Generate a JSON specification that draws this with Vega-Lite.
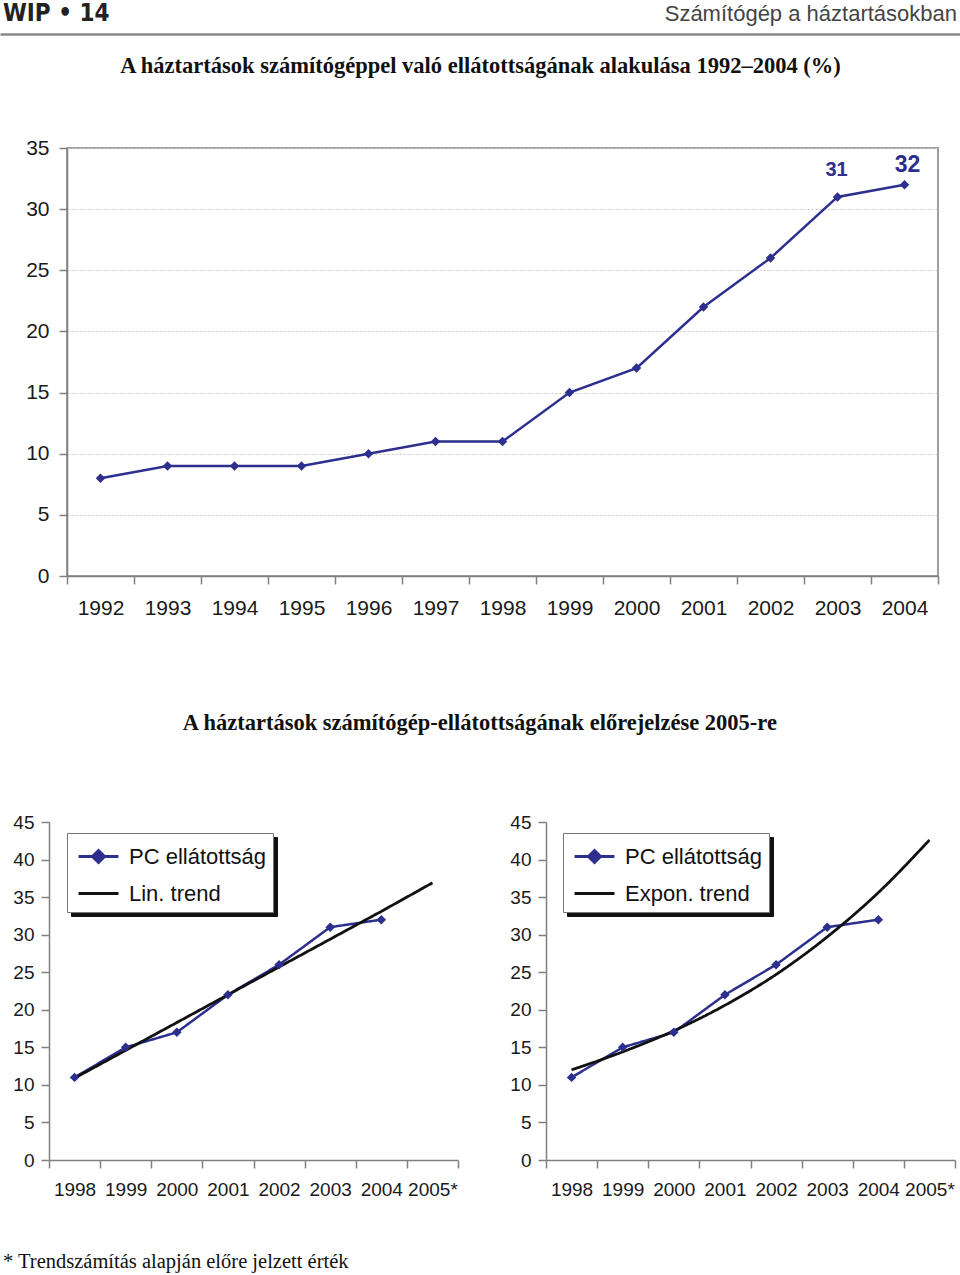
{
  "$schema": "https://vega.github.io/schema/vega-lite/v6.json",
  "padding": 0,
  "background": "white",
  "config": {
    "view": {"stroke": null},
    "font": "Liberation Sans",
    "axis": {"labelFont": "Liberation Sans", "labelColor": "#1a1a1a", "domainColor": "#808080", "tickColor": "#808080", "domainWidth": 1.5, "tickWidth": 1.5, "tickSize": 8, "grid": false, "labelOverlap": false},
    "title": {"font": "Liberation Serif", "fontWeight": "bold", "fontSize": 22.5, "color": "#111"}
  },
  "datasets": {
    "top": [
      {"year": "1992", "value": 8}, {"year": "1993", "value": 9}, {"year": "1994", "value": 9},
      {"year": "1995", "value": 9}, {"year": "1996", "value": 10}, {"year": "1997", "value": 11},
      {"year": "1998", "value": 11}, {"year": "1999", "value": 15}, {"year": "2000", "value": 17},
      {"year": "2001", "value": 22}, {"year": "2002", "value": 26}, {"year": "2003", "value": 31},
      {"year": "2004", "value": 32}
    ],
    "pc": [
      {"year": "1998", "value": 11, "series": "PC ellátottság"},
      {"year": "1999", "value": 15, "series": "PC ellátottság"},
      {"year": "2000", "value": 17, "series": "PC ellátottság"},
      {"year": "2001", "value": 22, "series": "PC ellátottság"},
      {"year": "2002", "value": 26, "series": "PC ellátottság"},
      {"year": "2003", "value": 31, "series": "PC ellátottság"},
      {"year": "2004", "value": 32, "series": "PC ellátottság"}
    ],
    "lin": [
      {"year": "1998", "value": 10.9, "series": "Lin. trend"},
      {"year": "1999", "value": 14.6, "series": "Lin. trend"},
      {"year": "2000", "value": 18.3, "series": "Lin. trend"},
      {"year": "2001", "value": 22.0, "series": "Lin. trend"},
      {"year": "2002", "value": 25.7, "series": "Lin. trend"},
      {"year": "2003", "value": 29.4, "series": "Lin. trend"},
      {"year": "2004", "value": 33.1, "series": "Lin. trend"},
      {"year": "2005*", "value": 36.9, "series": "Lin. trend"}
    ],
    "exp": [
      {"year": "1998", "value": 12.0, "series": "Expon. trend"},
      {"year": "1999", "value": 14.4, "series": "Expon. trend"},
      {"year": "2000", "value": 17.2, "series": "Expon. trend"},
      {"year": "2001", "value": 20.6, "series": "Expon. trend"},
      {"year": "2002", "value": 24.7, "series": "Expon. trend"},
      {"year": "2003", "value": 29.7, "series": "Expon. trend"},
      {"year": "2004", "value": 35.6, "series": "Expon. trend"},
      {"year": "2005*", "value": 42.6, "series": "Expon. trend"}
    ]
  },
  "title": {"text": "* Trendszámítás alapján előre jelzett érték", "orient": "bottom", "anchor": "start", "fontWeight": "normal", "fontSize": 20.5, "offset": 53, "dx": 3},
  "spacing": 19,
  "vconcat": [
    {
      "width": 960,
      "height": 28,
      "data": {"values": [{"label": "WIP • 14", "pos": 0}]},
      "layer": [
        {
          "mark": {"type": "text", "align": "left", "baseline": "middle", "dx": 3, "font": "DejaVu Sans Condensed, Roboto Condensed, Liberation Sans Narrow, Liberation Sans", "fontWeight": "bold", "fontSize": 24, "color": "#222"},
          "encoding": {
            "x": {"field": "pos", "type": "quantitative", "title": null, "scale": {"domain": [0, 1]}, "axis": {"labels": false, "ticks": false, "grid": false, "domainColor": "#888", "domainWidth": 2.5, "offset": 6}},
            "text": {"field": "label"}
          }
        },
        {
          "data": {"values": [{"label": "Számítógép a háztartásokban", "pos": 1}]},
          "mark": {"type": "text", "align": "right", "baseline": "middle", "dx": -3, "font": "Liberation Sans", "fontSize": 22, "color": "#444"},
          "encoding": {
            "x": {"field": "pos", "type": "quantitative"},
            "text": {"field": "label"}
          }
        }
      ]
    },
    {
      "spacing": 92,
      "vconcat": [
        {
          "spacing": 0,
          "hconcat": [
            {"width": 1, "height": 1, "data": {"values": []}, "mark": "point"},
            {
              "title": {"text": "A háztartások számítógéppel való ellátottságának alakulása 1992–2004 (%)", "offset": 60, "dx": -22},
              "width": 871,
              "height": 428,
              "view": {"stroke": "#808080", "strokeWidth": 1.5},
              "data": {"name": "top"},
              "encoding": {
                "x": {"field": "year", "type": "ordinal", "title": null, "scale": {"type": "band", "paddingInner": 0, "paddingOuter": 0}, "axis": {"tickBand": "extent", "labelAngle": 0, "labelFontSize": 21, "labelPadding": 13}},
                "y": {"field": "value", "type": "quantitative", "title": null, "scale": {"domain": [0, 35], "nice": false}, "axis": {"values": [0, 5, 10, 15, 20, 25, 30, 35], "labelFontSize": 21, "labelPadding": 10, "minExtent": 65, "grid": true, "gridDash": [2, 2], "gridColor": "#c8c8c8"}}
              },
              "layer": [
                {"mark": {"type": "line", "color": "#2d2f8f", "strokeWidth": 2.5}},
                {"mark": {"type": "point", "shape": "diamond", "filled": true, "size": 90, "color": "#2d2f8f", "opacity": 1}},
                {
                  "transform": [{"filter": {"field": "year", "oneOf": ["2003"]}}],
                  "mark": {"type": "text", "dy": -27, "dx": -1, "fontWeight": "bold", "fontSize": 20, "color": "#2d2f8f"},
                  "encoding": {"text": {"field": "value"}}
                },
                {
                  "transform": [{"filter": {"field": "year", "oneOf": ["2004"]}}],
                  "mark": {"type": "text", "dy": -20, "dx": 3, "fontWeight": "bold", "fontSize": 23, "color": "#2d2f8f"},
                  "encoding": {"text": {"field": "value"}}
                }
              ]
            }
          ]
        },
        {
          "title": {"text": "A háztartások számítógép-ellátottságának előrejelzése 2005-re", "offset": 79, "anchor": "middle", "dx": 2},
          "spacing": 0,
          "hconcat": [
            {"width": 1, "height": 1, "data": {"values": []}, "mark": "point"},
            {
              "width": 409,
              "height": 338,
              "encoding": {
                "x": {"field": "year", "type": "ordinal", "title": null, "scale": {"type": "band", "domain": ["1998", "1999", "2000", "2001", "2002", "2003", "2004", "2005*"], "paddingInner": 0, "paddingOuter": 0}, "axis": {"tickBand": "extent", "labelAngle": 0, "labelFontSize": 19, "labelPadding": 12}},
                "y": {"field": "value", "type": "quantitative", "title": null, "scale": {"domain": [0, 45], "nice": false}, "axis": {"values": [0, 5, 10, 15, 20, 25, 30, 35, 40, 45], "labelFontSize": 19, "labelPadding": 7, "minExtent": 48}}
              },
              "layer": [
                {
                  "data": {"name": "pc"},
                  "mark": {"type": "line", "strokeWidth": 2.5},
                  "encoding": {
                    "color": {"field": "series", "type": "nominal", "scale": {"domain": ["PC ellátottság", "Lin. trend"], "range": ["#2d2f8f", "#111111"]},
                      "legend": {"title": null, "orient": "none", "legendX": 18, "legendY": 11, "zindex": 2, "direction": "vertical", "labelFont": "Liberation Sans", "labelFontSize": 22, "labelColor": "#111", "symbolSize": 900, "symbolOffset": 8, "symbolStrokeWidth": 3, "fillColor": "white", "strokeColor": "#777", "padding": 7, "rowPadding": 8, "labelOffset": 14, "labelLimit": 300,
                        "encode": {"symbols": {"update": {
                          "shape": {"signal": "datum.value === 'PC ellátottság' ? 'M-1.33,0L1.33,0M0,-0.4L0.4,0L0,0.4L-0.4,0Z' : 'M-1.33,0L1.33,0'"},
                          "stroke": {"signal": "datum.value === 'PC ellátottság' ? '#2d2f8f' : '#111111'"},
                          "fill": {"signal": "datum.value === 'PC ellátottság' ? '#2d2f8f' : '#111111'"},
                          "strokeWidth": {"value": 3},
                          "opacity": {"value": 1}
                        }}}}},
                    "strokeDash": {"field": "series", "type": "nominal", "sort": ["PC ellátottság", "Lin. trend"], "scale": {"range": [[1, 0], [1, 0]]},
                      "legend": {"title": null, "orient": "none", "legendX": 22, "legendY": 15, "zindex": 1, "direction": "vertical", "labelFont": "Liberation Sans", "labelFontSize": 22, "labelColor": "#111", "symbolSize": 900, "symbolOffset": 8, "fillColor": "#111", "strokeColor": "#111", "padding": 7, "rowPadding": 8, "labelOffset": 14, "labelLimit": 300,
                        "encode": {"symbols": {"update": {
                          "shape": {"signal": "datum.value === 'PC ellátottság' ? 'M-1.33,0L1.33,0M0,-0.4L0.4,0L0,0.4L-0.4,0Z' : 'M-1.33,0L1.33,0'"},
                          "stroke": {"value": "#111111"},
                          "fill": {"value": "#111111"},
                          "strokeWidth": {"value": 3}
                        }}}}}
                  }
                },
                {
                  "data": {"name": "lin"},
                  "mark": {"type": "line", "strokeWidth": 2.8},
                  "encoding": {
                    "color": {"field": "series", "type": "nominal"},
                    "strokeDash": {"field": "series", "type": "nominal", "sort": ["PC ellátottság", "Lin. trend"]}
                  }
                },
                {
                  "data": {"name": "pc"},
                  "mark": {"type": "point", "shape": "diamond", "filled": true, "size": 90, "color": "#2d2f8f", "opacity": 1}
                }
              ]
            },
            {
              "width": 409,
              "height": 338,
              "encoding": {
                "x": {"field": "year", "type": "ordinal", "title": null, "scale": {"type": "band", "domain": ["1998", "1999", "2000", "2001", "2002", "2003", "2004", "2005*"], "paddingInner": 0, "paddingOuter": 0}, "axis": {"tickBand": "extent", "labelAngle": 0, "labelFontSize": 19, "labelPadding": 12}},
                "y": {"field": "value", "type": "quantitative", "title": null, "scale": {"domain": [0, 45], "nice": false}, "axis": {"values": [0, 5, 10, 15, 20, 25, 30, 35, 40, 45], "labelFontSize": 19, "labelPadding": 7, "minExtent": 87}}
              },
              "layer": [
                {
                  "data": {"name": "pc"},
                  "mark": {"type": "line", "strokeWidth": 2.5},
                  "encoding": {
                    "color": {"field": "series", "type": "nominal", "scale": {"domain": ["PC ellátottság", "Expon. trend"], "range": ["#2d2f8f", "#111111"]},
                      "legend": {"title": null, "orient": "none", "legendX": 17, "legendY": 11, "zindex": 2, "direction": "vertical", "labelFont": "Liberation Sans", "labelFontSize": 22, "labelColor": "#111", "symbolSize": 900, "symbolOffset": 8, "symbolStrokeWidth": 3, "fillColor": "white", "strokeColor": "#777", "padding": 7, "rowPadding": 8, "labelOffset": 14, "labelLimit": 300,
                        "encode": {"symbols": {"update": {
                          "shape": {"signal": "datum.value === 'PC ellátottság' ? 'M-1.33,0L1.33,0M0,-0.4L0.4,0L0,0.4L-0.4,0Z' : 'M-1.33,0L1.33,0'"},
                          "stroke": {"signal": "datum.value === 'PC ellátottság' ? '#2d2f8f' : '#111111'"},
                          "fill": {"signal": "datum.value === 'PC ellátottság' ? '#2d2f8f' : '#111111'"},
                          "strokeWidth": {"value": 3},
                          "opacity": {"value": 1}
                        }}}}},
                    "strokeDash": {"field": "series", "type": "nominal", "sort": ["PC ellátottság", "Expon. trend"], "scale": {"range": [[1, 0], [1, 0]]},
                      "legend": {"title": null, "orient": "none", "legendX": 21, "legendY": 15, "zindex": 1, "direction": "vertical", "labelFont": "Liberation Sans", "labelFontSize": 22, "labelColor": "#111", "symbolSize": 900, "symbolOffset": 8, "fillColor": "#111", "strokeColor": "#111", "padding": 7, "rowPadding": 8, "labelOffset": 14, "labelLimit": 300,
                        "encode": {"symbols": {"update": {
                          "shape": {"signal": "datum.value === 'PC ellátottság' ? 'M-1.33,0L1.33,0M0,-0.4L0.4,0L0,0.4L-0.4,0Z' : 'M-1.33,0L1.33,0'"},
                          "stroke": {"value": "#111111"},
                          "fill": {"value": "#111111"},
                          "strokeWidth": {"value": 3}
                        }}}}}
                  }
                },
                {
                  "data": {"name": "exp"},
                  "mark": {"type": "line", "strokeWidth": 2.8, "interpolate": "monotone"},
                  "encoding": {
                    "color": {"field": "series", "type": "nominal"},
                    "strokeDash": {"field": "series", "type": "nominal", "sort": ["PC ellátottság", "Expon. trend"]}
                  }
                },
                {
                  "data": {"name": "pc"},
                  "mark": {"type": "point", "shape": "diamond", "filled": true, "size": 90, "color": "#2d2f8f", "opacity": 1}
                }
              ]
            }
          ],
          "resolve": {"scale": {"color": "independent", "strokeDash": "independent"}}
        }
      ]
    }
  ]
}
